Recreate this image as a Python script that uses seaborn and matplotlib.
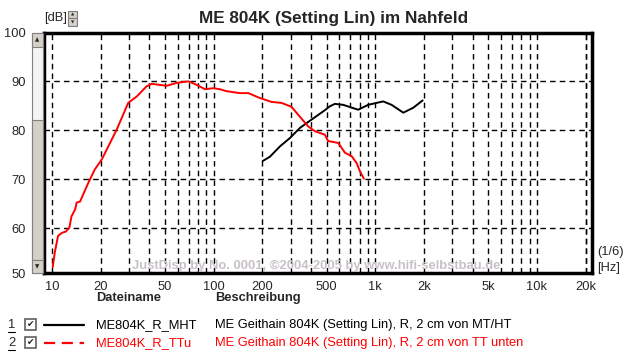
import numpy as np
import pandas as pd
import seaborn as sns
import matplotlib.pyplot as plt
from matplotlib.patches import Rectangle
from matplotlib.ticker import FixedLocator, NullFormatter

# Frequenzgang (Hz, dB)
red_f = [10.1, 10.4, 10.9, 11.5, 12.2, 12.8, 13.2, 13.9, 14.2, 14.9, 15.6, 16.8, 18.4,
         20.3, 25.1, 29.6, 33.4, 38.5, 41.4, 51.2, 59.1, 69.7, 78.5, 88.4, 99.4, 109,
         120, 145, 164, 193, 228, 263, 303, 333, 384, 423, 487, 511, 590, 649, 714,
         766, 803, 850]
red_db = [52.0, 55.0, 58.4, 59.0, 59.3, 60.1, 62.4, 63.8, 65.2, 65.4, 66.9, 69.3, 72.0,
          74.0, 80.1, 85.6, 86.9, 89.0, 89.5, 89.1, 89.7, 90.0, 89.3, 88.4, 88.6, 88.4,
          88.0, 87.6, 87.6, 86.6, 85.8, 85.6, 84.8, 83.2, 80.8, 79.8, 79.1, 77.8, 77.4,
          75.4, 74.7, 73.3, 71.6, 70.1]

black_f = [201, 223, 257, 296, 342, 404, 433, 487, 523, 562, 633, 783, 903, 1018,
           1119, 1261, 1489, 1715, 1962]
black_db = [73.7, 74.6, 76.7, 78.4, 80.5, 82.2, 82.9, 84.1, 84.9, 85.4, 85.2, 84.2,
            85.2, 85.6, 85.9, 85.2, 83.6, 84.6, 86.1]

xtick_vals = [10, 20, 50, 100, 200, 500, 1000, 2000, 5000, 10000, 20000]
xtick_labels = ['10', '20', '50', '100', '200', '500', '1k', '2k', '5k', '10k', '20k']
ytick_vals = [50.8, 60, 70, 80, 90, 100]
ytick_labels = ['50', '60', '70', '80', '90', '100']

files = ['ME804K_R_MHT', 'ME804K_R_TTu']
descr = ['ME Geithain 804K (Setting Lin), R, 2 cm von MT/HT',
         'ME Geithain 804K (Setting Lin), R, 2 cm von TT unten']
colors = ['black', '#ff0000']

df_red = pd.DataFrame({'f': red_f, 'db': red_db})
df_black = pd.DataFrame({'f': black_f, 'db': black_db})

sns.set_style('white')
plt.rcParams['font.family'] = ['Liberation Sans', 'DejaVu Sans']
FS = 9.3

W, H = 624, 354
fig = plt.figure(figsize=(W / 100, H / 100), dpi=100)


def fx(x):
    return x / W


def fy(y):
    return 1 - y / H


ax = fig.add_axes([fx(44), fy(273), fx(592) - fx(44), fy(32.5) - fy(273)])

sns.lineplot(data=df_black, x='f', y='db', ax=ax, color=colors[0], lw=1.4, sort=False)
sns.lineplot(data=df_red, x='f', y='db', ax=ax, color=colors[1], lw=1.4, sort=False)

ax.set_xscale('log')
ax.set_xlim(8.92, 21900)
ax.set_ylim(50.8, 100)

grid_x = [m * 10 ** e for e in range(1, 5) for m in range(1, 10)] + [20000]
ax.xaxis.set_major_locator(FixedLocator(xtick_vals))
ax.set_xticklabels(xtick_labels)
ax.xaxis.set_minor_locator(FixedLocator(grid_x))
ax.xaxis.set_minor_formatter(NullFormatter())
ax.set_yticks(ytick_vals)
ax.set_yticklabels(ytick_labels)
ax.tick_params(axis='both', which='both', length=0, labelsize=FS)
ax.tick_params(axis='x', pad=6)
ax.tick_params(axis='y', pad=13)
ax.grid(False)
for g in grid_x:
    ax.axvline(g, color='black', lw=1, ls=(0, (4, 3)), zorder=0)
for g in [60, 70, 80, 90]:
    ax.axhline(g, color='black', lw=1, ls=(0, (4, 3)), zorder=0)
ax.set_xlabel('')
ax.set_ylabel('')
for s in ax.spines.values():
    s.set_visible(True)
    s.set_color('black')
    s.set_linewidth(2.5)

# Titel und Achsbeschriftungen
fig.text(fx(334), fy(18), 'ME 804K (Setting Lin) im Nahfeld', ha='center', va='center',
         fontsize=12.3, fontweight='bold')
fig.text(fx(44), fy(18), '[dB]', ha='left', va='center', fontsize=FS)
fig.text(fx(597), fy(252), '(1/6)', ha='left', va='center', fontsize=FS)
fig.text(fx(597), fy(268), '[Hz]', ha='left', va='center', fontsize=FS)
fig.text(fx(132), fy(266), 'JustDisp by No. 0001, \u00a92004-2005 by www.hifi-selbstbau.de',
         ha='left', va='center', fontsize=9.4, fontweight='bold', color='#c8c0c8')

# kleine Bedienelemente (Scrollbar, Spinner)
def box(x0, y0, x1, y1, fc, ec='#808080', lw=0.8):
    fig.patches.append(Rectangle((fx(x0), fy(y1)), fx(x1) - fx(x0), fy(y0) - fy(y1),
                                 transform=fig.transFigure, fc=fc, ec=ec, lw=lw))

box(32, 33, 43, 273, '#f4f4f4')
box(32, 120, 43, 260, '#d4d0c8')
box(32, 33, 43, 47, '#d4d0c8')
box(32, 260, 43, 273, '#d4d0c8')
fig.text(fx(37.5), fy(40), '\u25b2', ha='center', va='center', fontsize=4, family='DejaVu Sans')
fig.text(fx(37.5), fy(266.5), '\u25bc', ha='center', va='center', fontsize=4, family='DejaVu Sans')
box(68, 11, 77, 18, '#d4d0c8')
box(68, 18, 77, 26, '#d4d0c8')
fig.text(fx(72.5), fy(14.5), '\u25b2', ha='center', va='center', fontsize=3, family='DejaVu Sans')
fig.text(fx(72.5), fy(22), '\u25bc', ha='center', va='center', fontsize=3, family='DejaVu Sans')

# Legende
fig.text(fx(96), fy(298), 'Dateiname', ha='left', va='center', fontsize=FS, fontweight='bold')
fig.text(fx(215), fy(298), 'Beschreibung', ha='left', va='center', fontsize=FS, fontweight='bold')
rows_y = [325, 343]
for i, yy in enumerate(rows_y):
    fig.text(fx(8), fy(yy), str(i + 1), ha='left', va='center', fontsize=FS)
    fig.lines.append(plt.Line2D([fx(8), fx(15)], [fy(yy + 7), fy(yy + 7)],
                                transform=fig.transFigure, color='black', lw=0.8))
    box(25, yy - 6, 36, yy + 5, 'white', ec='#606060', lw=1.2)
    fig.text(fx(30.5), fy(yy - 0.5), '\u2714', ha='center', va='center', fontsize=6.5,
             family='DejaVu Sans')
    ls = '-' if i == 0 else (0, (5, 3))
    fig.lines.append(plt.Line2D([fx(44), fx(84)], [fy(yy), fy(yy)], transform=fig.transFigure,
                                color=colors[i], lw=1.6, ls=ls))
    fig.text(fx(96), fy(yy), files[i], ha='left', va='center', fontsize=FS, color=colors[i])
    fig.text(fx(215), fy(yy), descr[i], ha='left', va='center', fontsize=FS, color=colors[i])

fig.savefig('out.png', dpi=100, facecolor='white')
